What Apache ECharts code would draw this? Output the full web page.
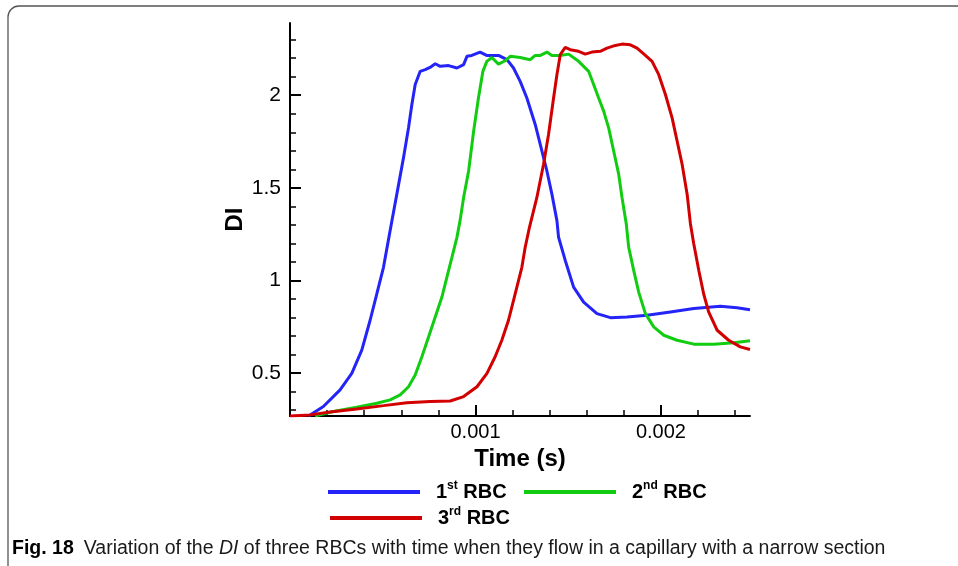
<!DOCTYPE html>
<html>
<head>
<meta charset="utf-8">
<script src="https://cdn.jsdelivr.net/npm/echarts@6/dist/echarts.min.js"></script>
<style>
html,body{margin:0;padding:0;background:#fff;}
#chart{width:958px;height:566px;}
</style>
</head>
<body>
<div id="chart"></div>
<script>
// ---- data (time in s, DI) ----
var seriesNames = ['1st RBC', '2nd RBC', '3rd RBC'];
var rbc1 = [[0.000100,0.268],[0.000108,0.274],[0.00018,0.319],[0.00027,0.409],[0.000333,0.498],[0.000387,0.624],[0.000432,0.785],[0.000468,0.928],[0.000504,1.071],[0.00053,1.215],[0.000549,1.32],[0.000576,1.466],[0.000612,1.663],[0.000639,1.824],[0.000657,1.95],[0.000675,2.058],[0.000702,2.129],[0.000729,2.138],[0.000755,2.15],[0.000783,2.17],[0.00081,2.156],[0.000855,2.16],[0.0009,2.147],[0.000936,2.165],[0.000954,2.21],[0.00098,2.215],[0.001025,2.233],[0.00106,2.215],[0.001124,2.215],[0.00117,2.192],[0.001205,2.147],[0.001241,2.075],[0.001277,1.985],[0.001322,1.842],[0.001358,1.699],[0.001385,1.591],[0.001412,1.466],[0.001439,1.323],[0.001448,1.233],[0.001484,1.108],[0.001529,0.964],[0.001583,0.883],[0.001655,0.821],[0.001727,0.799],[0.001817,0.803],[0.001925,0.812],[0.002051,0.83],[0.002177,0.848],[0.00232,0.86],[0.00241,0.853],[0.00248,0.842]];
var rbc2 = [[0.000135,0.268],[0.000234,0.292],[0.00036,0.316],[0.000468,0.337],[0.00054,0.355],[0.000594,0.382],[0.000639,0.426],[0.000675,0.489],[0.000711,0.588],[0.000747,0.695],[0.000783,0.803],[0.000819,0.91],[0.000846,1.018],[0.000873,1.125],[0.0009,1.233],[0.000917,1.323],[0.000936,1.448],[0.000963,1.591],[0.00099,1.806],[0.001016,1.985],[0.00104,2.129],[0.001061,2.183],[0.001088,2.204],[0.001124,2.168],[0.00116,2.186],[0.001187,2.21],[0.001241,2.204],[0.001295,2.192],[0.001322,2.215],[0.00135,2.215],[0.001385,2.233],[0.001412,2.215],[0.001457,2.215],[0.001502,2.222],[0.001556,2.183],[0.00161,2.129],[0.001637,2.058],[0.001664,1.985],[0.001691,1.914],[0.001718,1.824],[0.001745,1.699],[0.001772,1.574],[0.00179,1.448],[0.001813,1.305],[0.001826,1.179],[0.001853,1.054],[0.00188,0.937],[0.001916,0.821],[0.001961,0.749],[0.002015,0.704],[0.002087,0.677],[0.002177,0.656],[0.002285,0.656],[0.002393,0.663],[0.00248,0.674]];
var rbc3 = [[0,0.268],[0.000108,0.274],[0.000216,0.289],[0.00036,0.306],[0.000504,0.324],[0.00063,0.34],[0.000756,0.346],[0.000864,0.349],[0.000936,0.373],[0.001008,0.426],[0.001062,0.498],[0.001106,0.588],[0.001142,0.677],[0.001178,0.785],[0.001214,0.928],[0.00125,1.071],[0.001268,1.179],[0.001291,1.287],[0.001331,1.448],[0.001367,1.627],[0.001394,1.789],[0.001421,1.985],[0.001439,2.111],[0.001457,2.219],[0.001484,2.258],[0.001511,2.246],[0.001556,2.237],[0.001592,2.222],[0.001628,2.233],[0.001673,2.237],[0.001709,2.254],[0.001754,2.269],[0.00179,2.276],[0.001835,2.272],[0.001871,2.254],[0.001916,2.215],[0.001952,2.183],[0.001988,2.111],[0.002024,2.004],[0.00206,1.878],[0.002087,1.753],[0.002114,1.627],[0.002141,1.466],[0.002159,1.305],[0.002177,1.197],[0.002204,1.054],[0.00223,0.928],[0.002257,0.83],[0.002303,0.731],[0.002365,0.677],[0.002428,0.641],[0.00248,0.627]];

// ---- ticks ----
var xMajorTicks = [0.001, 0.002];
var xMinorTicks = [0.0002,0.0004,0.0006,0.0008,0.0012,0.0014,0.0016,0.0018,0.0022,0.0024];
var yMajorTicks = [0.5, 1, 1.5, 2];
var yMinorTicks = [0.3,0.4,0.6,0.7,0.8,0.9,1.1,1.2,1.3,1.4,1.6,1.7,1.8,1.9,2.1,2.2,2.3];

var FONT = 'Liberation Sans, Arial, sans-serif';
var colors = ['#2424f8', '#12cc12', '#d20000'];
var supers = {'1st RBC':['1','st'], '2nd RBC':['2','nd'], '3rd RBC':['3','rd']};

function legendFmt(name){
  var p = supers[name];
  return '{b|' + p[0] + '}{s|' + p[1] + '}{b| RBC}';
}
var legendRich = {
  b: {fontFamily: FONT, fontSize: 20, fontWeight: 'bold', color: '#000', lineHeight: 24},
  s: {fontFamily: FONT, fontSize: 12, fontWeight: 'bold', color: '#000', lineHeight: 12, verticalAlign: 'top'}
};
function mkLegend(name, left, top){
  return {
    data: [name], left: left, top: top, padding: 0, icon: 'rect',
    itemWidth: 92, itemHeight: 4, selectedMode: false,
    formatter: legendFmt,
    textStyle: {padding: [0,0,0,11], rich: legendRich}
  };
}

var FRAME = '#555';
var CAP = 19.5;

var chart = echarts.init(document.getElementById('chart'), null, {renderer: 'canvas'});
chart.setOption({
  animation: false,
  backgroundColor: '#fff',
  color: colors,
  grid: {left: 290, top: 23, right: 208, bottom: 150, containLabel: false},
  title: {
    left: 12, top: 539, padding: 0,
    text: '{b|Fig. 18}  {r|Variation of the }{i|DI}{r| of three RBCs with time when they flow in a capillary with a narrow section}',
    textStyle: {
      fontWeight: 'normal',
      rich: {
        b: {fontFamily: FONT, fontSize: CAP, fontWeight: 'bold', color: '#000'},
        r: {fontFamily: FONT, fontSize: CAP, fontWeight: 'normal', color: '#1a1a1a'},
        i: {fontFamily: FONT, fontSize: CAP, fontWeight: 'normal', fontStyle: 'italic', color: '#1a1a1a'}
      }
    }
  },
  legend: [
    mkLegend(seriesNames[0], 328, 480),
    mkLegend(seriesNames[1], 524, 480),
    mkLegend(seriesNames[2], 330, 506)
  ],
  xAxis: [{
    type: 'value', min: 0, max: 0.00248, position: 'bottom',
    name: 'Time (s)', nameLocation: 'middle', nameGap: 29,
    nameTextStyle: {fontFamily: FONT, fontSize: 24, fontWeight: 'bold', color: '#000'},
    axisLine: {show: true, onZero: false, lineStyle: {color: '#000', width: 2}},
    axisTick: {show: true, inside: true, length: 6, customValues: xMinorTicks, lineStyle: {color: '#000', width: 1.5}},
    axisLabel: {show: true, margin: 6, customValues: xMajorTicks, formatter: function(v){ return v.toFixed(3); }, fontFamily: FONT, fontSize: 20, color: '#000'},
    splitLine: {show: false}
  }, {
    type: 'value', min: 0, max: 0.00248, position: 'bottom',
    axisLine: {show: false},
    axisTick: {show: true, inside: true, length: 11, customValues: xMajorTicks, lineStyle: {color: '#000', width: 2}},
    axisLabel: {show: false},
    splitLine: {show: false}
  }],
  yAxis: [{
    type: 'value', min: 0.268, max: 2.39, position: 'left',
    name: 'DI', nameLocation: 'middle', nameGap: 43, nameRotate: 90,
    nameTextStyle: {fontFamily: FONT, fontSize: 24, fontWeight: 'bold', color: '#000'},
    axisLine: {show: true, onZero: false, lineStyle: {color: '#000', width: 2}},
    axisTick: {show: true, inside: true, length: 6, customValues: yMinorTicks, lineStyle: {color: '#000', width: 1.5}},
    axisLabel: {show: true, margin: 9, customValues: yMajorTicks, formatter: function(v){ return String(v); }, fontFamily: FONT, fontSize: 21, color: '#000'},
    splitLine: {show: false}
  }, {
    type: 'value', min: 0.268, max: 2.39, position: 'left',
    axisLine: {show: false},
    axisTick: {show: true, inside: true, length: 11, customValues: yMajorTicks, lineStyle: {color: '#000', width: 2}},
    axisLabel: {show: false},
    splitLine: {show: false}
  }],
  graphic: [
    {type: 'line', silent: true, shape: {x1: 19, y1: 6, x2: 958, y2: 6}, style: {stroke: FRAME, lineWidth: 1.3}},
    {type: 'line', silent: true, shape: {x1: 8, y1: 17, x2: 8, y2: 566}, style: {stroke: FRAME, lineWidth: 1.3}},
    {type: 'arc', silent: true, shape: {cx: 19, cy: 17, r: 11, startAngle: Math.PI, endAngle: Math.PI * 1.5, clockwise: true}, style: {stroke: FRAME, lineWidth: 1.3, fill: null}}
  ],
  series: [
    {name: seriesNames[0], type: 'line', data: rbc1, symbol: 'none', lineStyle: {width: 3, color: colors[0]}, itemStyle: {color: colors[0]}, z: 2},
    {name: seriesNames[1], type: 'line', data: rbc2, symbol: 'none', lineStyle: {width: 3, color: colors[1]}, itemStyle: {color: colors[1]}, z: 3},
    {name: seriesNames[2], type: 'line', data: rbc3, symbol: 'none', lineStyle: {width: 3, color: colors[2]}, itemStyle: {color: colors[2]}, z: 4}
  ]
});
</script>
</body>
</html>
